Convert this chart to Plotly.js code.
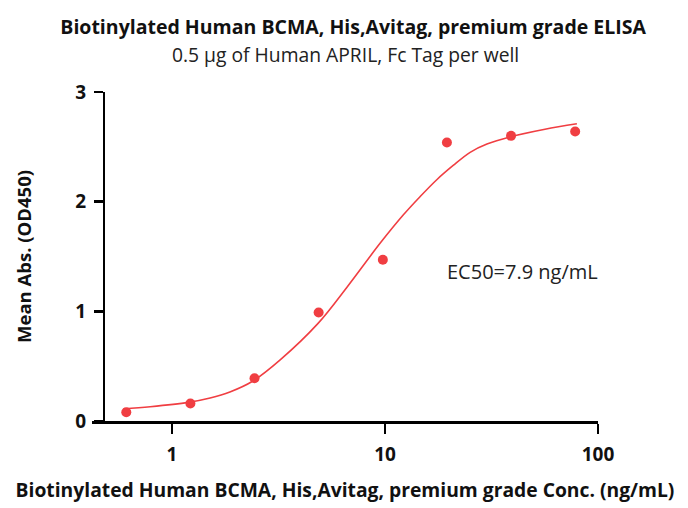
<!DOCTYPE html>
<html>
<head>
<meta charset="utf-8">
<script src="https://cdn.plot.ly/plotly-3.0.1.min.js"></script>
<style>html,body{margin:0;padding:0;background:#fff;}#chart{width:688px;height:508px;}</style>
</head>
<body>
<div id="chart"></div>
<script>
// Measured data points
var conc = [0.61, 1.22, 2.44, 4.88, 9.77, 19.53, 39.06, 78.13];
var absorb = [0.08, 0.16, 0.39, 0.99, 1.47, 2.54, 2.60, 2.64];
// Fitted curve
var fitConc = [0.59, 0.79, 1.19, 1.51, 1.87, 2.40, 3.21, 4.85, 6.63, 9.48, 12.2, 14.6, 17.5, 20.9, 25.1, 30.1, 38.6, 56.4, 79.6];
var fitAbs = [0.11, 0.13, 0.17, 0.21, 0.265, 0.365, 0.555, 0.89, 1.22, 1.62, 1.88, 2.045, 2.20, 2.33, 2.45, 2.525, 2.59, 2.66, 2.71];
// Tick labels
var xTickVals = [1, 10, 100];
var xTickText = ['1', '10', '100'];
var yTickVals = [0, 1, 2, 3];
var yTickText = ['0', '1', '2', '3'];

var red = 'rgb(240,62,66)';
var fontFam = '"Open Sans", Lato, sans-serif';

var traces = [
  {x: fitConc, y: fitAbs, type: 'scatter', mode: 'lines',
   line: {color: red, width: 1.6, shape: 'spline', smoothing: 1}, hoverinfo: 'skip'},
  {x: conc, y: absorb, type: 'scatter', mode: 'markers',
   marker: {color: red, size: 10}}
];

var layout = {
  width: 688, height: 508,
  margin: {l: 92, r: 90, t: 92, b: 87},
  paper_bgcolor: '#fff', plot_bgcolor: '#fff',
  showlegend: false,
  font: {family: fontFam, color: '#111'},
  title: {
    text: '<b>Biotinylated Human BCMA, His,Avitag, premium grade ELISA</b>',
    font: {family: fontFam, size: 19.5, color: '#111'},
    x: 0.516, xanchor: 'center', xref: 'paper',
    y: 0.947, yanchor: 'middle'
  },
  xaxis: {
    type: 'log', range: [-0.3756, 2.0],
    tickvals: xTickVals, ticktext: xTickText,
    showgrid: false, zeroline: false,
    showline: true, linecolor: '#000', linewidth: 2.5,
    ticks: 'outside', ticklen: 10, tickwidth: 2.5, tickcolor: '#000',
    tickfont: {family: fontFam, size: 19, color: '#111', weight: 'bold'},
    ticklabelstandoff: 5,
    anchor: 'y',
    title: {text: '<b>Biotinylated Human BCMA, His,Avitag, premium grade Conc. (ng/mL)</b>',
            font: {family: fontFam, size: 19.3, color: '#111'}, standoff: 17}
  },
  yaxis: {
    range: [0, 3],
    tickvals: yTickVals, ticktext: yTickText,
    showgrid: false, zeroline: false,
    showline: true, linecolor: '#000', linewidth: 2.5,
    ticks: 'outside', ticklen: 9, tickwidth: 2.5, tickcolor: '#000',
    tickfont: {family: fontFam, size: 19, color: '#111', weight: 'bold'},
    ticklabelstandoff: 4,
    anchor: 'free', position: 0.0237,
    title: {text: '<b>Mean Abs. (OD450)</b>',
            font: {family: fontFam, size: 18.5, color: '#111'}, standoff: 38}
  },
  annotations: [
    {text: '0.5 μg of Human APRIL, Fc Tag per well', xref: 'paper', yref: 'paper',
     x: 0.5, y: 1.1155, xanchor: 'center', yanchor: 'middle', showarrow: false,
     font: {family: fontFam, size: 19.3, color: '#222'}},
    {text: 'EC50=7.9 ng/mL', xref: 'paper', yref: 'y', x: 0.697, y: 1.36,
     xanchor: 'left', yanchor: 'middle', showarrow: false,
     font: {family: fontFam, size: 20, color: '#222'}}
  ]
};

Plotly.newPlot('chart', traces, layout, {displayModeBar: false, staticPlot: true});
</script>
</body>
</html>
